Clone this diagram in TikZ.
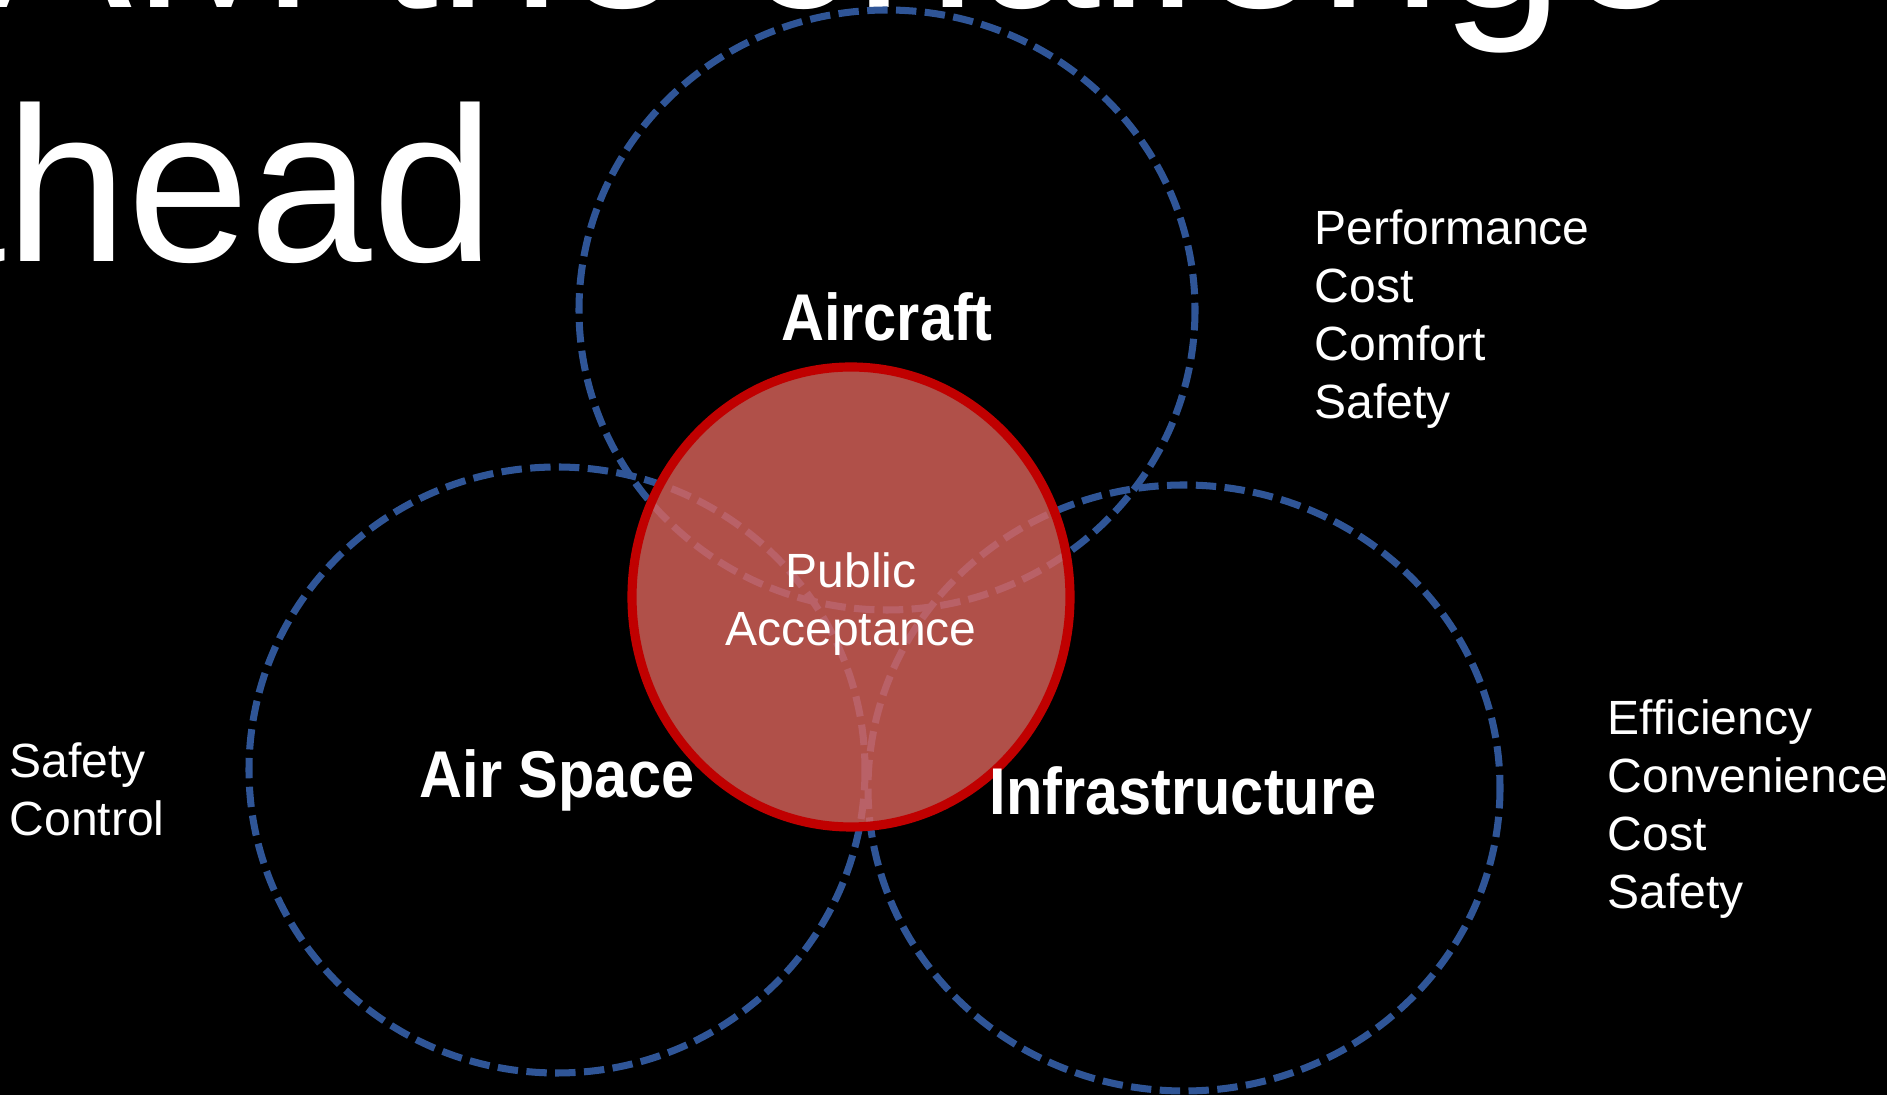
\documentclass[tikz,border=0pt]{standalone}
\usepackage{fontspec}
\setmainfont{Liberation Sans}
\newfontfamily\labfont[FakeStretch=0.9]{Liberation Sans}
\definecolor{bluedash}{RGB}{47,85,151}
\definecolor{redline}{RGB}{192,0,0}
\definecolor{redfill}{RGB}{220,100,92}
\tikzset{
  dashcirc/.style={draw=bluedash, line width=2pt, dash pattern=on 5.8pt off 2.4pt},
  pubcirc/.style={draw=redline, line width=2.6pt, fill=redfill, fill opacity=0.8},
  titletext/.style={text=white, inner sep=0pt, font=\fontsize{62.6pt}{72pt}\selectfont},
  biglabel/.style={text=white, inner sep=0pt, font=\labfont\bfseries\fontsize{18.8pt}{22pt}\selectfont},
  listtext/.style={text=white, inner sep=0pt, align=left, font=\fontsize{13.66pt}{16.5pt}\selectfont},
}
\begin{document}
\begin{tikzpicture}[x=0.01cm, y=-0.01cm]
\useasboundingbox (0,0) rectangle (1887,1095);
\clip (0,0) rectangle (1887,1095);
\fill[black] (0,0) rectangle (1887,1095);
% title (cut off at the slide edges)
\node[titletext, anchor=base east] (t1) at (1688,8) {How AAM the challenge};
\node[titletext, anchor=base west] (t2) at (-118,262) {ahead};
% dashed circles
\coordinate (cA) at (887,310);
\coordinate (cS) at (557,770);
\coordinate (cI) at (1184,788);
\coordinate (cP) at (851,597);
\draw[dashcirc] (cA) ellipse [x radius=308, y radius=300];
\draw[dashcirc] (cS) ellipse [x radius=308, y radius=303];
\draw[dashcirc] (cI) ellipse [x radius=316, y radius=303];
% public acceptance circle
\path[pubcirc] (cP) ellipse [x radius=219, y radius=230];
% labels
\node[biglabel, anchor=base] (air) at (887,341) {Aircraft};
\node[biglabel, anchor=base] (space) at (557,798) {Air Space};
\node[biglabel, anchor=base] (infra) at (1183,815) {Infrastructure};
\node[listtext, align=center, anchor=north] (pub) at (851,552) {Public\\Acceptance};
% lists
\node[listtext, anchor=north west] (l1) at (1314,209) {Performance\\Cost\\Comfort\\Safety};
\node[listtext, anchor=north west] (l2) at (1607,699) {Efficiency\\Convenience\\Cost\\Safety};
\node[listtext, anchor=north west] (l3) at (9,742) {Safety\\Control};
\end{tikzpicture}
\end{document}
